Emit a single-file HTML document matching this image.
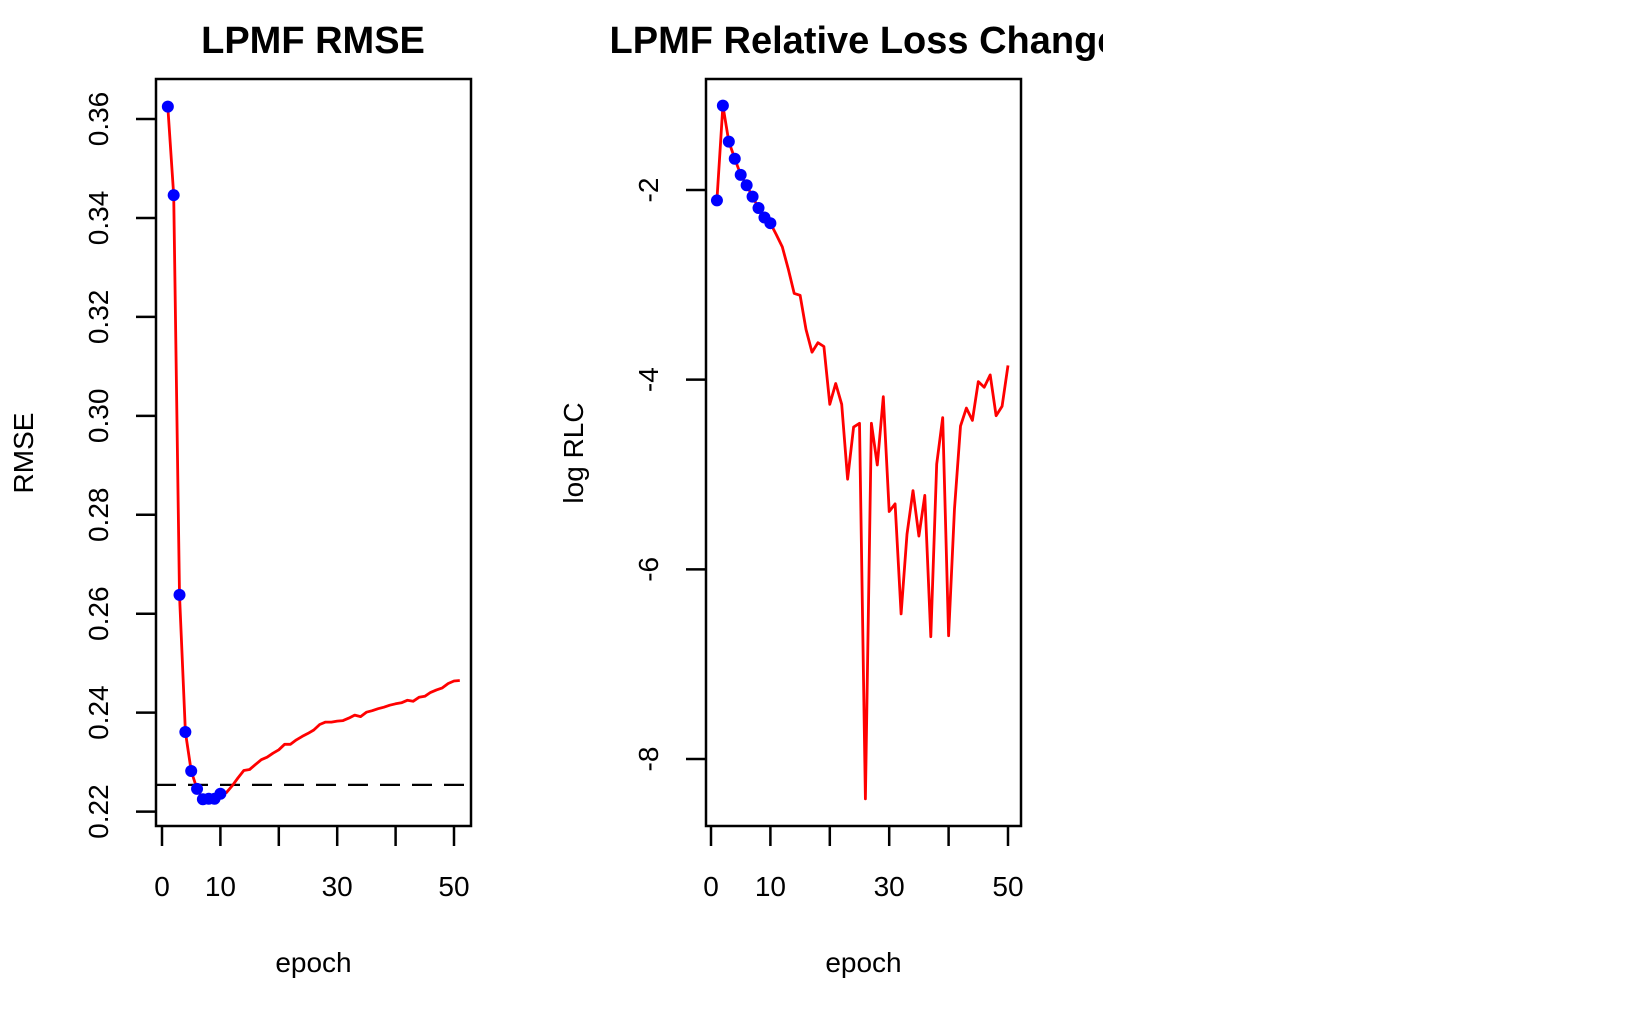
<!DOCTYPE html>
<html><head><meta charset="utf-8"><style>
html,body{margin:0;padding:0;background:#fff;}
svg{display:block;font-family:"Liberation Sans",Arial,sans-serif;}
</style></head><body>
<svg id="fig" width="1647" height="1017" viewBox="0 0 1647 1017" xmlns="http://www.w3.org/2000/svg">
<defs><clipPath id="clipR"><rect x="550" y="0" width="553" height="1017"/></clipPath></defs>
<g id="p1"></g>
<g id="p2"></g>
</svg>
<script>
const rmseEpochs = [];
for (let i = 1; i <= 51; i++) rmseEpochs.push(i);
const rmseValues = [0.3625,0.3446,0.2638,0.2361,0.2282,0.2246,0.2225,0.2226,0.2226,0.2236,
0.2238,0.2252,0.2268,0.2283,0.2285,0.2295,0.2305,0.2310,0.2318,0.2325,
0.2336,0.2336,0.2345,0.2352,0.2358,0.2365,0.2376,0.2381,0.2381,0.2383,
0.2384,0.2389,0.2395,0.2392,0.2401,0.2404,0.2408,0.2411,0.2415,0.2418,
0.2420,0.2425,0.2423,0.2431,0.2433,0.2441,0.2446,0.2450,0.2459,0.2464,0.2465];
const rmseBaseline = 0.2254;
const rmseTicks = [0.22,0.24,0.26,0.28,0.30,0.32,0.34,0.36];
const rmseTickLabels = ["0.22","0.24","0.26","0.28","0.30","0.32","0.34","0.36"];
const rlcEpochs = [];
for (let i = 1; i <= 50; i++) rlcEpochs.push(i);
const rlcValues = [-2.11,-1.11,-1.49,-1.67,-1.84,-1.95,-2.07,-2.19,-2.29,-2.35,
-2.47,-2.60,-2.83,-3.09,-3.11,-3.47,-3.71,-3.61,-3.65,-4.26,
-4.04,-4.26,-5.05,-4.50,-4.46,-8.42,-4.46,-4.90,-4.18,-5.39,
-5.31,-6.47,-5.63,-5.17,-5.65,-5.22,-6.71,-4.89,-4.40,-6.70,
-5.36,-4.49,-4.30,-4.43,-4.02,-4.08,-3.95,-4.38,-4.28,-3.85];
const rlcTicks = [-8,-6,-4,-2];
const rlcTickLabels = ["-8","-6","-4","-2"];
const xTicks = [0,10,20,30,40,50];
const xTickLabels = ["0","10","","30","","50"];
const NS = "http://www.w3.org/2000/svg";
function mk(parent, tag, attrs, text){
  const e = document.createElementNS(NS, tag);
  for (const k in attrs) e.setAttribute(k, attrs[k]);
  if (text !== undefined) e.textContent = text;
  parent.appendChild(e); return e;
}
function panel(g, cfg){
  const X = e => cfg.x0 + (e - 0) * (cfg.x50 - cfg.x0) / 50;
  const Y = v => cfg.yA + (v - cfg.vA) * (cfg.yB - cfg.yA) / (cfg.vB - cfg.vA);
  const box = mk(g,'rect',{x:cfg.L,y:79,width:cfg.R-cfg.L,height:747,fill:'none',stroke:'#000','stroke-width':2.5});
  
  
  const title = mk(g,'text',{x:cfg.tx,y:53,'text-anchor':'middle','font-size':38,'font-weight':'bold'},cfg.title);
  
  
  if (cfg.clip) title.setAttribute('clip-path','url(#clipR)');
  mk(g,'line',{x1:X(0),x2:X(50),y1:826,y2:826,stroke:'#000','stroke-width':2});
  xTicks.forEach((t,i)=>{
    const tk = mk(g,'line',{x1:X(t),x2:X(t),y1:826,y2:846,stroke:'#000','stroke-width':2.5});
    
    
    if (xTickLabels[i]) {
      const tl = mk(g,'text',{x:X(t),y:896,'text-anchor':'middle','font-size':28},xTickLabels[i]);
      
      
    }
  });
  const xl = mk(g,'text',{x:(cfg.L+cfg.R)/2,y:972,'text-anchor':'middle','font-size':28},'epoch');
  
  
  const ys = cfg.ticks.map(Y);
  mk(g,'line',{x1:cfg.L,x2:cfg.L,y1:Math.min(...ys),y2:Math.max(...ys),stroke:'#000','stroke-width':2});
  cfg.ticks.forEach((t,i)=>{
    const tk = mk(g,'line',{x1:cfg.L-20,x2:cfg.L,y1:Y(t),y2:Y(t),stroke:'#000','stroke-width':2.5});
    
    
    const tl = mk(g,'text',{x:0,y:0,'text-anchor':'middle','font-size':28,transform:`translate(${cfg.L-48},${Y(t)}) rotate(-90)`},cfg.labels[i]);
    
    
  });
  const yl = mk(g,'text',{x:0,y:0,'text-anchor':'middle','font-size':28,transform:`translate(${cfg.ylx},453) rotate(-90)`},cfg.ylab);
  
  
  if (cfg.base !== undefined) {
    const b = mk(g,'line',{x1:cfg.L,x2:cfg.R,y1:Y(cfg.base),y2:Y(cfg.base),stroke:'#000','stroke-width':2.2,'stroke-dasharray':'20,12'});
    
    
  }
  const pts = cfg.ex.map((e,i)=>X(e).toFixed(1)+','+Y(cfg.vals[i]).toFixed(1)).join(' ');
  const ln = mk(g,'polyline',{points:pts,fill:'none',stroke:'#ff0000','stroke-width':2.8,'stroke-linejoin':'round'});
  
  
  for (let i = 0; i < 10; i++) {
    const c = mk(g,'circle',{cx:X(cfg.ex[i]),cy:Y(cfg.vals[i]),r:6,fill:'#0000ff'});
    
    
  }
}
panel(document.getElementById('p1'),{L:156,R:471,x0:162,x50:454,yA:811.6,vA:0.22,yB:119,vB:0.36,
  ticks:rmseTicks,labels:rmseTickLabels,title:'LPMF RMSE',tx:313,ylab:'RMSE',ylx:33,
  ex:rmseEpochs,vals:rmseValues,base:rmseBaseline});
panel(document.getElementById('p2'),{L:706,R:1021,x0:711,x50:1008,yA:759,vA:-8,yB:190,vB:-2,
  ticks:rlcTicks,labels:rlcTickLabels,title:'LPMF Relative Loss Change',tx:864,ylab:'log RLC',ylx:583,
  ex:rlcEpochs,vals:rlcValues,clip:true});
</script>
</body></html>
